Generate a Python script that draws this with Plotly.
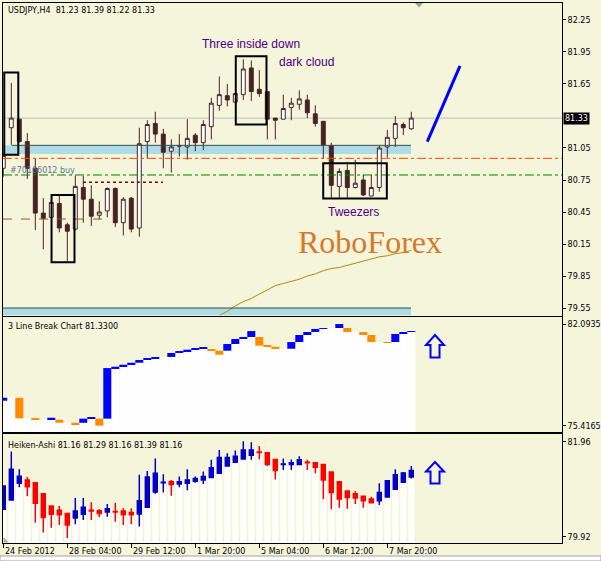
import plotly.graph_objects as go

# ------------------------------------------------------------------ data
bars = list(range(52))

price_open = [80.86, 81.24, 81.32, 81.11, 80.86, 80.44, 80.40, 80.53, 80.33, 80.29,
              80.68, 80.57, 80.42, 80.46, 80.67, 80.35, 80.58, 80.30, 81.11, 81.28,
              81.18, 81.02, 81.07, 81.06, 81.17, 81.10, 81.25, 81.45, 81.54, 81.48,
              81.55, 81.80, 81.60, 81.58, 81.33, 81.32, 81.43, 81.46, 81.50, 81.37,
              81.30, 81.07, 80.69, 80.84, 80.68, 80.75, 80.60, 80.68, 81.06, 81.14,
              81.27, 81.23]
price_high = [81.00, 81.66, 81.32, 81.19, 80.95, 80.58, 80.55, 80.61, 80.35, 80.79,
              80.79, 80.70, 80.55, 80.68, 80.68, 80.59, 80.59, 81.24, 81.31, 81.39,
              81.23, 81.13, 81.18, 81.32, 81.19, 81.31, 81.52, 81.72, 81.65, 81.56,
              81.88, 81.87, 81.78, 81.58, 81.33, 81.55, 81.52, 81.59, 81.55, 81.45,
              81.30, 81.10, 80.86, 80.92, 80.94, 80.80, 80.80, 81.07, 81.22, 81.35,
              81.29, 81.39]
price_low = [80.78, 81.08, 81.10, 80.76, 80.28, 80.10, 80.39, 80.26, 79.99, 80.28,
             80.35, 80.32, 80.38, 80.40, 80.31, 80.23, 80.26, 80.22, 80.95, 81.10,
             80.86, 80.82, 80.97, 80.94, 81.02, 81.03, 81.13, 81.40, 81.44, 81.48,
             81.50, 81.49, 81.53, 81.13, 81.13, 81.32, 81.31, 81.41, 81.33, 81.25,
             80.95, 80.58, 80.58, 80.58, 80.67, 80.60, 80.60, 80.64, 80.96, 81.06,
             81.17, 81.22]
price_close = [80.98, 81.33, 81.11, 80.86, 80.44, 80.39, 80.54, 80.30, 80.27, 80.69,
               80.57, 80.41, 80.45, 80.67, 80.35, 80.57, 80.29, 81.09, 81.27, 81.18,
               81.01, 81.06, 81.07, 81.14, 81.10, 81.27, 81.47, 81.55, 81.50, 81.56,
               81.79, 81.58, 81.56, 81.32, 81.31, 81.42, 81.47, 81.51, 81.38, 81.28,
               81.08, 80.70, 80.83, 80.68, 80.72, 80.61, 80.68, 81.05, 81.15, 81.28,
               81.24, 81.33]

ma_bars = list(range(27, 52))
ma_values = [79.48, 79.52, 79.57, 79.61, 79.64, 79.68, 79.72, 79.76, 79.78, 79.80,
             79.82, 79.85, 79.87, 79.90, 79.92, 79.93, 79.95, 79.97, 79.99, 80.01,
             80.03, 80.04, 80.06, 80.07, 80.09]

lb_bottom = [77.06, 77.25, 75.90, 75.90, 75.81, 75.81, 75.81, 75.61, 75.61, 75.48,
             75.61, 75.88, 75.42, 75.88, 79.20, 79.29, 79.42, 79.55, 79.73, 79.82,
             79.93, 79.93, 80.19, 80.32, 80.41, 80.47, 80.34, 80.08, 80.34, 80.78,
             81.11, 81.24, 80.67, 80.60, 80.47, 80.47, 80.47, 80.91, 81.37, 81.57,
             81.77, 81.83, 81.83, 81.57, 81.57, 81.37, 80.91, 80.91, 80.85, 80.91,
             81.44, 81.57]
lb_top = [77.25, 77.25, 77.25, 75.90, 75.90, 75.81, 75.94, 75.81, 75.61, 75.61,
          75.88, 75.99, 75.88, 79.20, 79.29, 79.42, 79.55, 79.73, 79.82, 79.93,
          79.93, 80.19, 80.32, 80.41, 80.47, 80.52, 80.45, 80.34, 80.78, 81.11,
          81.24, 81.63, 81.24, 80.67, 80.60, 80.47, 80.91, 81.37, 81.57, 81.77,
          81.83, 81.83, 82.09, 81.83, 81.57, 81.57, 81.37, 80.91, 80.91, 81.44,
          81.57, 81.63]
lb_dir = ["u", "n", "d", "n", "d", "n", "u", "d", "n", "d",
          "u", "u", "d", "u", "u", "u", "u", "u", "u", "u",
          "n", "u", "u", "u", "u", "u", "d", "d", "u", "u",
          "u", "u", "d", "d", "d", "n", "u", "u", "u", "u",
          "u", "n", "u", "d", "n", "d", "d", "n", "d", "u",
          "u", "u"]

ha_open = [80.51, 80.71, 81.07, 81.14, 81.08, 80.84, 80.58, 80.49, 80.42, 80.32,
           80.40, 80.49, 80.48, 80.45, 80.46, 80.47, 80.44, 80.41, 80.55, 80.88,
           81.08, 81.10, 81.05, 81.07, 81.11, 81.14, 81.19, 81.28, 81.44, 81.52,
           81.59, 81.67, 81.74, 81.72, 81.58, 81.47, 81.47, 81.47, 81.52, 81.51,
           81.47, 81.31, 81.10, 80.90, 80.84, 80.79, 80.73, 80.69, 80.77, 80.94,
           81.09, 81.20]
ha_high = [81.01, 81.75, 81.37, 81.20, 81.08, 80.84, 80.58, 80.58, 80.42, 80.75,
           80.75, 80.66, 80.51, 80.62, 80.65, 80.53, 80.53, 81.25, 81.33, 81.60,
           81.26, 81.14, 81.21, 81.37, 81.21, 81.32, 81.57, 81.78, 81.71, 81.77,
           81.97, 81.95, 81.87, 81.72, 81.58, 81.60, 81.58, 81.65, 81.57, 81.51,
           81.47, 81.31, 81.10, 80.90, 80.90, 80.79, 80.78, 81.07, 81.14, 81.37,
           81.31, 81.44]
ha_low = [80.51, 80.69, 80.98, 80.79, 80.22, 80.01, 80.11, 80.17, 79.89, 80.19,
          80.28, 80.28, 80.34, 80.35, 80.24, 80.17, 80.19, 80.14, 80.55, 80.84,
          80.87, 80.80, 80.98, 80.92, 81.08, 81.05, 81.19, 81.28, 81.44, 81.52,
          81.59, 81.57, 81.58, 81.44, 81.15, 81.35, 81.35, 81.47, 81.35, 81.28,
          80.73, 80.51, 80.54, 80.52, 80.62, 80.54, 80.64, 80.60, 80.77, 80.94,
          81.09, 81.17]
ha_close = [81.01, 81.37, 81.22, 80.99, 80.64, 80.33, 80.40, 80.39, 80.17, 80.47,
            80.55, 80.47, 80.42, 80.52, 80.45, 80.39, 80.39, 80.69, 81.20, 81.28,
            81.09, 81.04, 81.10, 81.14, 81.17, 81.21, 81.40, 81.62, 81.62, 81.65,
            81.78, 81.78, 81.73, 81.47, 81.34, 81.48, 81.51, 81.57, 81.51, 81.41,
            81.14, 80.87, 80.73, 80.76, 80.75, 80.69, 80.65, 80.87, 81.12, 81.25,
            81.29, 81.34]

main_ticks = [82.25, 81.95, 81.65, 81.05, 80.75, 80.45, 80.15, 79.85, 79.55]
lb_ticks = [82.0935, 75.4165]
ha_ticks = [81.96, 79.92]
time_ticks = [0, 8, 16, 24, 32, 40, 48]
time_labels = ["24 Feb 2012", "28 Feb 04:00", "29 Feb 12:00", "1 Mar 20:00",
               "5 Mar 04:00", "6 Mar 12:00", "7 Mar 20:00"]

# ------------------------------------------------------------------ layout helpers
W, H = 601, 561
ML, MR, MT, MB = 3, 39, 3, 18
PW, PH = W - ML - MR, H - MT - MB
X_LO = -0.0375
X_HI = X_LO + PW / 8.0


def px(x):
    return (x - ML) / PW


def py(y):
    return (H - MB - y) / PH


BG = "#F5F5DC"
CANDLE = "#472424"
SMALL = dict(family="DejaVu Sans", size=8, color="black")

fig = go.Figure()

# main candles
fig.add_trace(go.Candlestick(
    x=bars, open=price_open, high=price_high, low=price_low, close=price_close,
    increasing=dict(line=dict(color=CANDLE, width=1), fillcolor="white"),
    decreasing=dict(line=dict(color=CANDLE, width=1), fillcolor=CANDLE),
    xaxis="x", yaxis="y", hoverinfo="skip"))

fig.add_trace(go.Scatter(x=ma_bars, y=ma_values, mode="lines",
                         line=dict(color="#B8860B", width=1),
                         xaxis="x", yaxis="y", hoverinfo="skip"))

# 3 line break
lb_base = 74.0
fig.add_trace(go.Bar(x=bars, y=[b - lb_base for b in lb_bottom], base=lb_base,
                     width=1.0, marker=dict(color="white", line=dict(width=0)),
                     xaxis="x2", yaxis="y2", hoverinfo="skip"))
lb_colors = ["#0000FF" if d == "u" else ("#FF8C00" if d == "d" else "rgba(0,0,0,0)")
             for d in lb_dir]
fig.add_trace(go.Bar(x=bars, y=[t - b for t, b in zip(lb_top, lb_bottom)], base=lb_bottom,
                     width=1.0, marker=dict(color=lb_colors, line=dict(width=0)),
                     xaxis="x2", yaxis="y2", hoverinfo="skip"))

# heiken ashi
ha_base = 79.0
fig.add_trace(go.Bar(x=bars, y=[min(o, c) - ha_base for o, c in zip(ha_open, ha_close)],
                     base=ha_base, width=0.75,
                     marker=dict(color="white", line=dict(width=0)),
                     xaxis="x3", yaxis="y3", hoverinfo="skip"))
fig.add_trace(go.Candlestick(
    x=bars, open=ha_open, high=ha_high, low=ha_low, close=ha_close,
    increasing=dict(line=dict(color="#0000C8", width=1.5), fillcolor="#0000C8"),
    decreasing=dict(line=dict(color="#FF0000", width=1.5), fillcolor="#FF0000"),
    xaxis="x3", yaxis="y3", hoverinfo="skip"))

# ------------------------------------------------------------------ shapes
shapes = []
band_end = 50.96
# light blue bands
shapes.append(dict(type="rect", xref="x", yref="y", x0=X_LO, x1=band_end, y0=80.994, y1=81.075,
                   fillcolor="#AEDCE6", line=dict(width=0), layer="below"))
shapes.append(dict(type="line", xref="x", yref="y", x0=1.05, x1=band_end, y0=81.075, y1=81.075,
                   line=dict(color="#2F4F4F", width=1)))
shapes.append(dict(type="rect", xref="x", yref="y", x0=X_LO, x1=band_end, y0=79.48, y1=79.55,
                   fillcolor="#AEDCE6", line=dict(width=0), layer="below"))
shapes.append(dict(type="line", xref="x", yref="y", x0=X_LO, x1=band_end, y0=79.55, y1=79.55,
                   line=dict(color="#2F4F4F", width=1)))
# horizontal levels
shapes.append(dict(type="line", xref="x", yref="y", x0=X_LO, x1=X_HI, y0=81.33, y1=81.33,
                   line=dict(color="#C0C0C0", width=1), layer="below"))
shapes.append(dict(type="line", xref="x", yref="y", x0=X_LO, x1=X_HI, y0=80.953, y1=80.953,
                   line=dict(color="#FF4500", width=1, dash="dashdot")))
shapes.append(dict(type="line", xref="x", yref="y", x0=X_LO, x1=X_HI, y0=80.797, y1=80.797,
                   line=dict(color="#008000", width=1, dash="dashdot")))
shapes.append(dict(type="line", xref="x", yref="y", x0=9.96, x1=19.96, y0=80.728, y1=80.728,
                   line=dict(color="#8B0000", width=1.5, dash="dot")))
shapes.append(dict(type="line", xref="x", yref="y", x0=X_LO, x1=12.97, y0=80.384, y1=80.384,
                   line=dict(color="#A0522D", width=1, dash="dash")))
# pattern boxes
for x0, x1, y0, y1 in [(0.12, 1.875, 80.986, 81.758), (6.03, 8.9, 79.98, 80.61),
                       (29.06, 32.9, 81.27, 81.91), (39.99, 47.94, 80.577, 80.907)]:
    shapes.append(dict(type="rect", xref="x", yref="y", x0=x0, x1=x1, y0=y0, y1=y1,
                       line=dict(color="black", width=2), fillcolor="rgba(0,0,0,0)"))
# blue trend arrow line
shapes.append(dict(type="line", xref="x", yref="y", x0=53.0, x1=57.09, y0=81.11, y1=81.82,
                   line=dict(color="#0000FF", width=3)))


def path(points):
    s = "M " + " L ".join(f"{px(a):.5f},{py(b):.5f}" for a, b in points) + " Z"
    return s


def up_arrow(top, base, bottom):
    return path([(435, top), (444, base), (439.5, base), (439.5, bottom),
                 (430.5, bottom), (430.5, base), (426, base)])


shapes.append(dict(type="path", xref="paper", yref="paper", path=up_arrow(335, 345, 357.5),
                   line=dict(color="#0000FF", width=2), fillcolor="rgba(0,0,0,0)"))
shapes.append(dict(type="path", xref="paper", yref="paper", path=up_arrow(462, 471.5, 483.5),
                   line=dict(color="#0000FF", width=2), fillcolor="rgba(0,0,0,0)"))
# small grey markers
shapes.append(dict(type="path", xref="paper", yref="paper",
                   path=path([(415, 3), (423, 3), (419, 7.5)]),
                   line=dict(width=0), fillcolor="#A0A0A0"))
shapes.append(dict(type="path", xref="paper", yref="paper",
                   path=path([(3.5, 537), (3.5, 542.5), (9, 542.5)]),
                   line=dict(width=0), fillcolor="#B0B0B0"))
# bottom tab strip
shapes.append(dict(type="rect", xref="paper", yref="paper", x0=px(0), x1=px(601),
                   y0=py(561), y1=py(556), fillcolor="white",
                   line=dict(color="#A0A0A0", width=1)))

# ------------------------------------------------------------------ annotations
ann = []


def ptext(text, x, y, font=SMALL, xanchor="left", **kw):
    ann.append(dict(text=text, xref="paper", yref="paper", x=px(x), y=py(y),
                    xanchor=xanchor, yanchor="middle", showarrow=False, font=font, **kw))


ptext("USDJPY,H4  81.23 81.39 81.22 81.33", 6, 10.7)
ptext("3 Line Break Chart 81.3300", 6, 326.7)
ptext("Heiken-Ashi 81.16 81.29 81.16 81.39 81.16", 6, 445)
ptext("#70166012 buy", 7.5, 170, font=dict(family="DejaVu Sans", size=8, color="#60709C"))

label_font = dict(family="Liberation Sans", size=12, color="#4B0082")
for text, xv, yv in [("Three inside down", 30.96, 82.025), ("dark cloud", 37.9, 81.86),
                     ("Tweezers", 43.8, 80.45)]:
    ann.append(dict(text=text, xref="x", yref="y", x=xv, y=yv, showarrow=False,
                    xanchor="center", yanchor="middle", font=label_font))
ann.append(dict(text="RoboForex", xref="x", yref="y", x=45.84, y=80.17, showarrow=False,
                xanchor="center", yanchor="middle",
                font=dict(family="Liberation Serif", size=32, color="#D8782C")))

# current price tag
ann.append(dict(text="81.33", xref="paper", yref="y", x=px(563), y=81.33, showarrow=False,
                xanchor="left", yanchor="middle", bgcolor="black", borderpad=1,
                font=dict(family="DejaVu Sans", size=8, color="white")))

# time labels
for t, lab in zip(time_ticks, time_labels):
    ann.append(dict(text=lab, xref="x3", yref="paper", x=t, y=py(551), xshift=0,
                    xanchor="left", yanchor="middle", showarrow=False, font=SMALL))

# ------------------------------------------------------------------ axes
frame = dict(showline=True, mirror=True, linecolor="black", linewidth=1,
             showgrid=False, zeroline=False, fixedrange=True)

xcommon = dict(range=[X_LO, X_HI], domain=[0, 1], showticklabels=False,
               rangeslider=dict(visible=False), **frame)

fig.update_layout(
    width=W, height=H,
    margin=dict(l=ML, r=MR, t=MT, b=MB, autoexpand=False),
    paper_bgcolor=BG, plot_bgcolor=BG,
    showlegend=False, hovermode=False,
    barmode="overlay", boxgap=0.3,
    xaxis=dict(anchor="y", ticks="", **xcommon),
    xaxis2=dict(anchor="y2", ticks="", **xcommon),
    xaxis3=dict(anchor="y3", ticks="outside", ticklen=4, tickcolor="black",
                tickvals=time_ticks, **xcommon),
    yaxis=dict(domain=[py(315.5), 1], range=[79.480, 82.409], side="right",
               tickvals=main_ticks, ticktext=[f"{v:.2f}" for v in main_ticks],
               ticks="outside", ticklen=3, tickcolor="black", tickfont=SMALL, **frame),
    yaxis2=dict(domain=[py(432), py(317)], range=[75.003, 82.553], side="right",
                tickvals=lb_ticks, ticktext=[f"{v:.4f}" for v in lb_ticks],
                ticks="outside", ticklen=3, tickcolor="black", tickfont=SMALL, **frame),
    yaxis3=dict(domain=[0, py(434)], range=[79.785, 82.125], side="right",
                tickvals=ha_ticks, ticktext=[f"{v:.2f}" for v in ha_ticks],
                ticks="outside", ticklen=3, tickcolor="black", tickfont=SMALL, **frame),
    shapes=shapes,
    annotations=ann,
)

fig.write_html("out.html", config={"displayModeBar": False},
               post_script="document.body.style.margin='0px';document.body.style.padding='0px';")
